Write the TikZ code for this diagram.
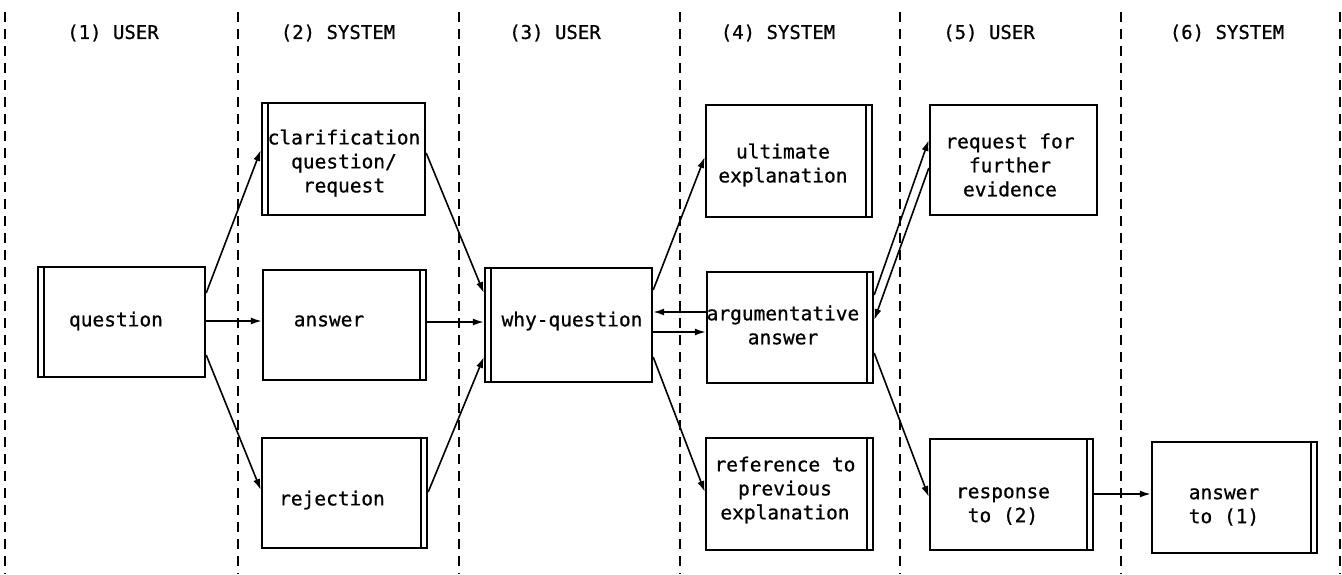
\documentclass[tikz,border=0pt]{standalone}
\usepackage{fontspec}
\newfontfamily\boxfont[FakeBold=0.8,AutoFakeBold=0.8]{DejaVu Sans Mono}
\usetikzlibrary{arrows.meta}
\begin{document}
\begin{tikzpicture}[x=1pt,y=-1pt,
  lane/.style={line width=1.6pt, dash pattern=on 10pt off 7pt},
  box/.style={draw, line width=2.4pt, inner sep=0pt, fill=none},
  dbl/.style={line width=2pt},
  txt/.style={font=\boxfont\fontsize{19.5}{24}\selectfont\bfseries, align=center, inner sep=0pt},
  head/.style={font=\boxfont\fontsize{19}{22}\selectfont\bfseries, inner sep=0pt},
  arr/.style={line width=1.6pt, -{Latex[length=11pt,width=7pt]}}]
\useasboundingbox (0,0) rectangle (1342,574);

% lane separators
\foreach \x in {5,238,459,680,900,1121,1340}
  \draw[lane] (\x,12) -- (\x,574);

% lane headings
\node[head] (h1) at (113,33) {(1) USER};
\node[head] (h2) at (338,33) {(2) SYSTEM};
\node[head] (h3) at (555,33) {(3) USER};
\node[head] (h4) at (778,33) {(4) SYSTEM};
\node[head] (h5) at (989,33) {(5) USER};
\node[head] (h6) at (1227,33) {(6) SYSTEM};

% dialogue steps
\node[box, minimum width=167, minimum height=110] (q)    at (121.5,322) {};
\node[box, minimum width=163, minimum height=112] (clar) at (343.5,159) {};
\node[box, minimum width=163, minimum height=110] (ans)  at (344.5,325) {};
\node[box, minimum width=165, minimum height=110] (rej)  at (344.5,493) {};
\node[box, minimum width=167, minimum height=114] (why)  at (568.5,325) {};
\node[box, minimum width=166, minimum height=112] (ult)  at (789,161) {};
\node[box, minimum width=166, minimum height=111] (arg)  at (790,327.5) {};
\node[box, minimum width=167, minimum height=112] (ref)  at (789.5,494) {};
\node[box, minimum width=167, minimum height=110] (req)  at (1013.5,160) {};
\node[box, minimum width=163, minimum height=111] (resp) at (1011.5,494.5) {};
\node[box, minimum width=165, minimum height=111] (ans1) at (1234.5,497.5) {};

% inner rules marking the speaker side
\foreach \n in {q,clar,why}
  \draw[dbl] ([xshift=7pt]\n.north west) -- ([xshift=7pt]\n.south west);
\foreach \n in {ans,rej,ult,arg,ref,resp,ans1}
  \draw[dbl] ([xshift=-7pt]\n.north east) -- ([xshift=-7pt]\n.south east);

% box texts
\node[txt] (q-t)    at (116,321)   {question};
\node[txt] (clar-t) at (344,163)   {clarification\\question/\\request};
\node[txt] (ans-t)  at (329,321)   {answer};
\node[txt] (rej-t)  at (332,500)   {rejection};
\node[txt] (why-t)  at (572,321)   {why-question};
\node[txt] (ult-t)  at (783,165)   {ultimate\\explanation};
\node[txt] (arg-t)  at (783,325)   {argumentative\\answer};
\node[txt] (ref-t)  at (785,490)   {reference to\\previous\\explanation};
\node[txt] (req-t)  at (1010,165)  {request for\\further\\evidence};
\node[txt] (resp-t) at (1003,506)  {response\\to (2)};
\node[txt] (ans1-t) at (1224,507)  {answer\\to (1)};

% transitions
\draw[arr] (q.east |- 0,293) -- (clar.west |- 0,150);
\draw[arr] (q.east |- 0,321) -- (ans.west |- 0,321);
\draw[arr] (q.east |- 0,355) -- (rej.west |- 0,490);
\draw[arr] (clar.east |- 0,153) -- (why.west |- 0,293);
\draw[arr] (ans.east |- 0,322) -- (why.west |- 0,322);
\draw[arr] (rej.east |- 0,492) -- (why.west |- 0,357);
\draw[arr] (why.east |- 0,290) -- (ult.west |- 0,157);
\draw[arr] (arg.west |- 0,312) -- (why.east |- 0,312);
\draw[arr] (why.east |- 0,332) -- (arg.west |- 0,332);
\draw[arr] (why.east |- 0,357) -- (ref.west |- 0,492);
\draw[arr] (arg.east |- 0,295) -- (req.west |- 0,140);
\draw[arr] (req.west |- 0,168) -- (arg.east |- 0,320);
\draw[arr] (arg.east |- 0,353) -- (resp.west |- 0,497);
\draw[arr] (resp.east |- 0,494) -- (ans1.west |- 0,494);
\end{tikzpicture}
\end{document}
